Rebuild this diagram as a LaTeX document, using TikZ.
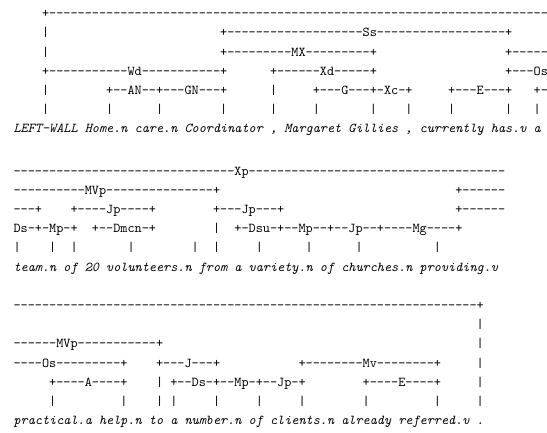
\documentclass[tikz,border=0pt]{standalone}
\usepackage{fontspec}
\setmonofont{lmmono10-regular.otf}[ItalicFont=lmmono10-italic.otf]
\ExplSyntaxOn
\NewDocumentCommand\dashrun{m}{\prg_replicate:nn{#1}{-}}
\ExplSyntaxOff
\tikzset{
  lnk/.style={font=\ttfamily\frenchspacing\fontsize{13.57}{16}\selectfont, inner sep=0pt, anchor=base west},
  wrd/.style={lnk, font=\ttfamily\itshape\frenchspacing\fontsize{13.57}{16}\selectfont},
  block/.style={x=7.125pt, y=-19.18pt, shift={(13.4pt,-#1)}},
}

\begin{document}
\begin{tikzpicture}
    \useasboundingbox (0,0) rectangle (547pt,-432pt);
    \clip (0,0) rectangle (547pt,-432pt);
    \fill[white] (0,0) rectangle (547pt,-432pt);
    % Block 1: LEFT-WALL ... a
    \begin{scope}[block=17.8pt]
        \node[lnk] (Xp1) at (4,0) {+\dashrun{70}};
        \node[lnk] (Ss) at (29,1) {+\dashrun{19}Ss\dashrun{18}+};
        \node[lnk] (MX) at (29,2) {+\dashrun{9}MX\dashrun{9}+};
        \node[lnk] (MVp1) at (69,2) {+\dashrun{5}};
        \node[lnk] (Wd) at (4,3) {+\dashrun{11}Wd\dashrun{11}+};
        \node[lnk] (Xd) at (36,3) {+------Xd-----+};
        \node[lnk] (Os1) at (69,3) {+---Os};
        \node[lnk] (ANGN) at (13,4) {+--AN--+---GN---+};
        \node[lnk] (GXc) at (42,4) {+---G---+-Xc-+};
        \node[lnk] (E1) at (61,4) {+---E---+};
        \node[lnk] (Ds1) at (73,4) {+-};
        \foreach \r in {1,2,4}
            \node[lnk] (wall\r) at (4,\r) {|};
        \node[lnk] (comma1) at (36,4) {|};
        \foreach \c in {4,13,20,29,36,42,50,55,61,69,73}
            \node[lnk] (bar1-\c) at (\c,5) {|};
        \node[wrd] (words1) at (0,6) {LEFT-WALL Home.n care.n Coordinator , Margaret Gillies , currently has.v a};
    \end{scope}
    % Block 2: team.n ... providing.v
    \begin{scope}[block=175.2pt]
        \node[lnk] (Xp2) at (0,0) {\dashrun{31}Xp\dashrun{36}};
        \node[lnk] (MVp2) at (0,1) {\dashrun{10}MVp\dashrun{15}+};
        \node[lnk] (MVp3) at (62,1) {+\dashrun{6}};
        \node[lnk] (Os2) at (0,2) {---+};
        \node[lnk] (Jp1) at (8,2) {+----Jp----+};
        \node[lnk] (Jp2) at (28,2) {+---Jp---+};
        \node[lnk] (Os3) at (62,2) {+\dashrun{6}};
        \node[lnk] (DsMp) at (0,3) {Ds-+-Mp-+};
        \node[lnk] (Dmcn) at (11,3) {+--Dmcn-+};
        \node[lnk] (from) at (28,3) {|};
        \node[lnk] (DsuMg) at (31,3) {+-Dsu-+--Mp--+--Jp--+----Mg----+};
        \foreach \c in {0,5,8,16,25,28,34,41,48,59}
            \node[lnk] (bar2-\c) at (\c,4) {|};
        \node[wrd] (words2) at (0,5) {team.n of 20 volunteers.n from a variety.n of churches.n providing.v};
    \end{scope}
    % Block 3: practical.a ... .
    \begin{scope}[block=309.5pt]
        \node[lnk] (Xp3) at (0,0) {\dashrun{65}+};
        \node[lnk] (MVp4) at (0,2) {------MVp-----------+};
        \node[lnk] (Os4) at (0,3) {----Os---------+};
        \node[lnk] (J) at (20,3) {+---J---+};
        \node[lnk] (Mv) at (40,3) {+--------Mv--------+};
        \node[lnk] (A) at (5,4) {+----A----+};
        \node[lnk] (to) at (20,4) {|};
        \node[lnk] (DsMpJp) at (22,4) {+--Ds-+--Mp-+--Jp-+};
        \node[lnk] (E2) at (49,4) {+----E----+};
        \foreach \r in {1,...,4}
            \node[lnk] (dot\r) at (65,\r) {|};
        \foreach \c in {5,15,20,22,28,34,40,49,59,65}
            \node[lnk] (bar3-\c) at (\c,5) {|};
        \node[wrd] (words3) at (0,6) {practical.a help.n to a number.n of clients.n already referred.v .};
    \end{scope}
\end{tikzpicture}
\end{document}
